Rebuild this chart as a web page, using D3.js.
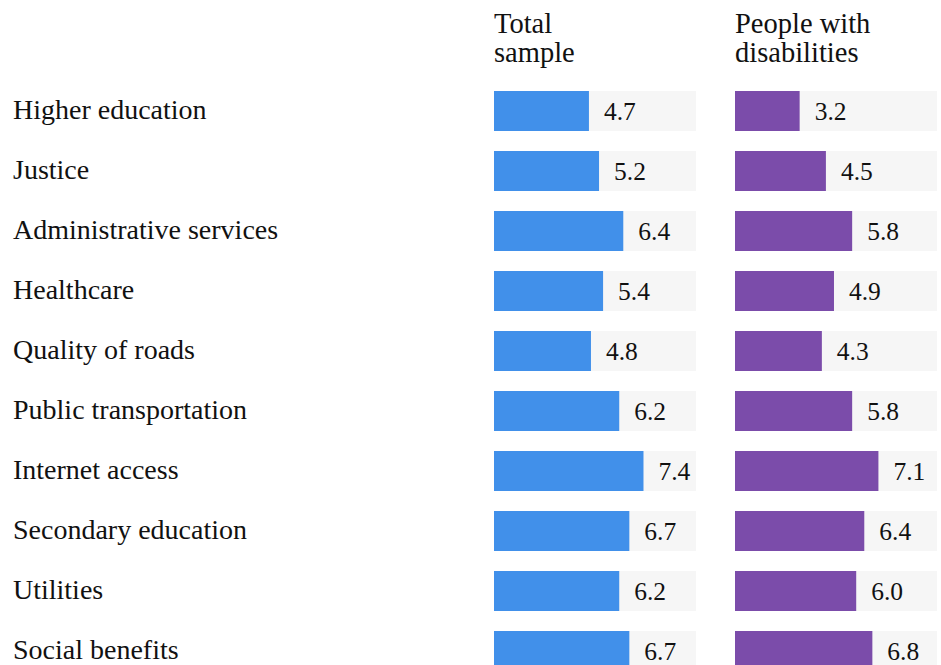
<!DOCTYPE html>
<html>
<head>
<meta charset="utf-8">
<script src="https://cdn.jsdelivr.net/npm/d3@7"></script>
<style>
  html, body { margin: 0; padding: 0; background: #ffffff; }
  svg { display: block; }
</style>
</head>
<body>
<svg id="chart" width="941" height="665"></svg>
<script>
const categories = [
  "Higher education",
  "Justice",
  "Administrative services",
  "Healthcare",
  "Quality of roads",
  "Public transportation",
  "Internet access",
  "Secondary education",
  "Utilities",
  "Social benefits"
];
const seriesNames = [["Total", "sample"], ["People with", "disabilities"]];
const totalSample = [4.7, 5.2, 6.4, 5.4, 4.8, 6.2, 7.4, 6.7, 6.2, 6.7];
const disabilities = [3.2, 4.5, 5.8, 4.9, 4.3, 5.8, 7.1, 6.4, 6.0, 6.8];
const colors = ["#4190EA", "#7B4CAA"];
const trackColor = "#F6F6F6";
const FONT = "'Liberation Serif', 'Times New Roman', Tinos, 'DejaVu Serif', serif";

const svg = d3.select("#chart")
  .attr("font-family", FONT)
  .style("font-family", FONT);

const y = d3.scaleBand()
  .domain(categories)
  .range([81, 681])
  .paddingInner(1 / 3)
  .paddingOuter(1 / 6);

const columns = [
  { values: totalSample, x: d3.scaleLinear().domain([0, 10]).range([494, 696]), color: colors[0], title: seriesNames[0] },
  { values: disabilities, x: d3.scaleLinear().domain([0, 10]).range([735, 937]), color: colors[1], title: seriesNames[1] }
];

// row labels
svg.append("g").selectAll("text")
  .data(categories)
  .join("text")
  .attr("x", 13)
  .attr("y", d => y(d) + y.bandwidth() / 2 + 8)
  .attr("font-size", 28)
  .attr("fill", "#111")
  .text(d => d);

columns.forEach(col => {
  const g = svg.append("g");
  // header
  g.append("text")
    .attr("x", col.x(0))
    .attr("y", 33)
    .attr("font-size", 28.5)
    .attr("fill", "#111")
    .selectAll("tspan")
    .data(col.title)
    .join("tspan")
    .attr("x", col.x(0))
    .attr("dy", (d, i) => i === 0 ? 0 : 29)
    .text(d => d);

  // tracks
  g.append("g").selectAll("rect")
    .data(categories)
    .join("rect")
    .attr("x", col.x(0))
    .attr("y", d => y(d))
    .attr("width", col.x(10) - col.x(0))
    .attr("height", y.bandwidth())
    .attr("fill", trackColor);

  // bars
  g.append("g").selectAll("rect")
    .data(categories)
    .join("rect")
    .attr("x", col.x(0))
    .attr("y", d => y(d))
    .attr("width", (d, i) => col.x(col.values[i]) - col.x(0))
    .attr("height", y.bandwidth())
    .attr("fill", col.color);

  // value labels
  g.append("g").selectAll("text")
    .data(categories)
    .join("text")
    .attr("x", (d, i) => col.x(col.values[i]) + 15)
    .attr("y", d => y(d) + y.bandwidth() / 2 + 9)
    .attr("font-size", 25.5)
    .attr("fill", "#111")
    .text((d, i) => d3.format(".1f")(col.values[i]));
});
</script>
</body>
</html>
